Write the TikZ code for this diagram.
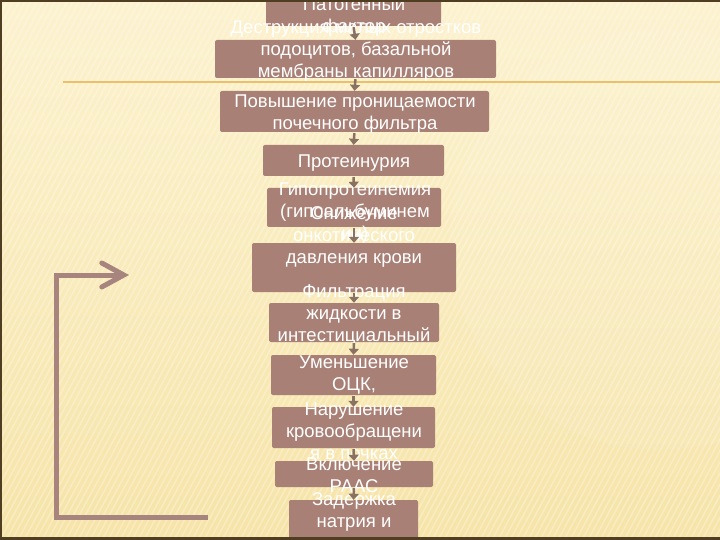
\documentclass[tikz,border=0pt]{standalone}
\usepackage{fontspec}
\setmainfont{Liberation Sans}
\usetikzlibrary{arrows.meta}
\definecolor{bgtop}{RGB}{252,242,206}
\definecolor{bgbot}{RGB}{246,228,168}
\definecolor{boxc}{RGB}{168,128,117}
\definecolor{arrc}{RGB}{138,114,98}
\definecolor{fbc}{RGB}{168,132,126}
\definecolor{goldl}{RGB}{232,192,110}
\definecolor{frame}{RGB}{80,62,34}
\tikzset{
  box/.style={fill=boxc, rounded corners=2pt, inner sep=0pt, draw=none},
  txt/.style={text=white, align=center, inner sep=0pt, font=\fontsize{18.5}{22}\selectfont},
  conn/.style={draw=arrc, line width=2.5pt, -{Triangle[length=6pt,width=10pt]}, shorten <=1pt, shorten >=0pt},
  feedback/.style={draw=fbc, line width=5pt, -{Straight Barb[length=22pt,width=24pt,line cap=round]}}
}
\begin{document}
\begin{tikzpicture}[x=1pt,y=-1pt]
\useasboundingbox (0,0) rectangle (720,540);
% background
\shade[top color=bgtop, bottom color=bgbot] (0,0) rectangle (720,540);
\fill[white, opacity=0.07] (660,240) circle (210);
\begin{scope}
\clip (0,0) rectangle (720,540);
\foreach \i in {-60,...,125} {
  \draw[white, opacity=0.28, line width=1.6pt] (\i*6,540) -- (\i*6+290,0);
}
\end{scope}
\draw[goldl, line width=1.2pt] (63,82) -- (720,82);
% boxes and texts
\node[box, minimum width=175, minimum height=40] (b1) at (353.5,6) {};
\node[txt] (t1) at (354,17) {Патогенный\\фактор};
\node[box, minimum width=281, minimum height=38] (b2) at (355.5,59) {};
\node[txt] (t2) at (356,51.5) {Деструкция малых отростков\\подоцитов, базальной\\мембраны капилляров};
\node[box, minimum width=269, minimum height=41] (b3) at (354.5,111.5) {};
\node[txt] (t3) at (355,114) {Повышение проницаемости\\почечного фильтра};
\node[box, minimum width=181, minimum height=31] (b4) at (353.5,160.5) {};
\node[txt] (t4) at (354,163) {Протеинурия};
\node[box, minimum width=174, minimum height=39] (b5) at (354,207.5) {};
\node[txt] (t5) at (355,213) {Гипопротеинемия\\(гипоальбуминем\\ия)};
\node[box, minimum width=204, minimum height=49] (b6) at (354,267.5) {};
\node[txt] (t6) at (354,237) {Снижение\\онкотического\\давления крови};
\node[box, minimum width=170, minimum height=39] (b7) at (354,322.5) {};
\node[txt] (t7) at (354,315) {Фильтрация\\жидкости в\\интестициальный};
\node[box, minimum width=165, minimum height=40] (b8) at (353.5,375) {};
\node[txt] (t8) at (354,375) {Уменьшение\\ОЦК,};
\node[box, minimum width=163, minimum height=41] (b9) at (353.5,427.5) {};
\node[txt] (t9) at (354,431) {Нарушение\\кровообращени\\я в почках};
\node[box, minimum width=158, minimum height=26] (b10) at (354,474) {};
\node[txt] (t10) at (354,475) {Включение\\РААС};
\node[box, minimum width=129, minimum height=60] (b11) at (353.5,530) {};
\node[txt] (t11) at (354,523) {Задержка\\натрия и\\воды};
% connectors
\draw[conn] (b1.south) -- (b2.north);
\draw[conn] (b2.south) -- (b3.north);
\draw[conn] (b3.south) -- (b4.north);
\draw[conn] (b4.south) -- (b5.north);
\draw[conn] (b5.south) -- (b6.north);
\draw[conn] (b6.south) -- (b7.north);
\draw[conn] (b7.south) -- (b8.north);
\draw[conn] (b8.south) -- (b9.north);
\draw[conn] (b9.south) -- (b10.north);
\draw[conn] (b10.south) -- (b11.north);
% feedback arrow
\coordinate (fbS) at (208,517);
\coordinate (fbE) at (129,275);
\draw[feedback] (fbS) -- (56,517) -- (56,275) -- (fbE);
% frame
\draw[frame, line width=2pt] (0,1) -- (720,1);
\draw[frame, line width=2pt] (1,0) -- (1,540);
\draw[frame, line width=3pt] (0,538.5) -- (720,538.5);
\end{tikzpicture}
\end{document}
